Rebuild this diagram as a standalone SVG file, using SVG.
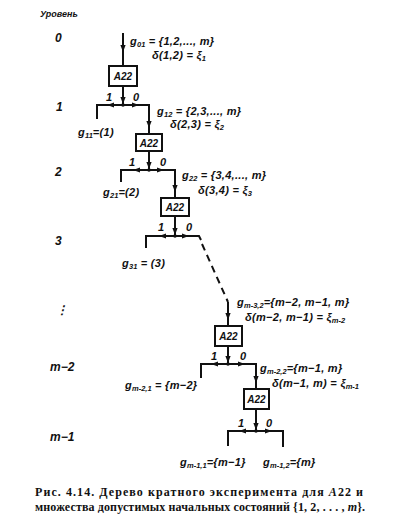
<svg xmlns="http://www.w3.org/2000/svg" width="407" height="527" viewBox="0 0 407 527">
<defs>
<style>
.t{font-family:"Liberation Sans",Arial,sans-serif;font-style:italic;font-weight:bold;font-size:11px;fill:#111;letter-spacing:0.3px;}
.s{font-size:7.5px;letter-spacing:0;}
.lv{font-family:"Liberation Sans",Arial,sans-serif;font-style:italic;font-weight:bold;font-size:12px;fill:#111;}
.cap{font-family:"Liberation Serif","Times New Roman",serif;font-size:12px;font-weight:bold;fill:#111;}
.ln{stroke:#111;stroke-width:2;fill:none;}
.dash{stroke:#111;stroke-width:2;fill:none;stroke-dasharray:7 5;}
.box{stroke:#111;stroke-width:2;fill:#fff;}
.bt{font-family:"Liberation Sans",Arial,sans-serif;font-style:italic;font-weight:bold;font-size:10px;fill:#111;text-anchor:middle;}
</style>
<path id="ad" d="M-2.6,-7 L2.6,-7 L0,0 Z" fill="#111"/>
<path id="al" d="M7,-2.4 L7,2.4 L0,0 Z" fill="#111"/>
<path id="ar" d="M-7,-2.4 L-7,2.4 L0,0 Z" fill="#111"/>
</defs>
<rect width="407" height="527" fill="#fff"/>

<g id="levels">
<text class="lv" x="40" y="17" style="font-size:9px">Уровень</text>
<text class="lv" x="55" y="42">0</text>
<text class="lv" x="56" y="111">1</text>
<text class="lv" x="55" y="176">2</text>
<text class="lv" x="55" y="245">3</text>
<text class="lv" x="56" y="314">⋮</text>
<text class="lv" x="50" y="371">m−2</text>
<text class="lv" x="50" y="441">m−1</text>
</g>

<g id="connectors">
<path class="ln" d="M123,33 V66"/>
<use href="#ad" x="123" y="52"/>
<path class="ln" d="M123,86 V105 M97,119 V105 H149 V134"/>
<use href="#ad" x="123" y="104"/>
<use href="#al" x="107" y="105"/>
<use href="#ar" x="139" y="105"/>
<use href="#ad" x="149" y="128"/>
<circle cx="123" cy="105" r="1.8" fill="#111"/>

<path class="ln" d="M149,151 V170 M121,182 V170 H175 V198"/>
<use href="#ad" x="149" y="169"/>
<use href="#al" x="133" y="170"/>
<use href="#ar" x="164" y="170"/>
<use href="#ad" x="175" y="192"/>
<circle cx="149" cy="170" r="1.8" fill="#111"/>

<path class="ln" d="M175,216 V236 M146,248 V236 H199 L201,240"/>
<use href="#ad" x="175" y="235"/>
<use href="#al" x="159" y="236"/>
<use href="#ar" x="189" y="236"/>
<circle cx="175" cy="236" r="1.8" fill="#111"/>
<path class="dash" d="M202,244 L228,302"/>
<path class="ln" d="M228,302 V326"/>
<use href="#ad" x="228" y="320"/>

<path class="ln" d="M228,346 V364 M201,378 V364 H256 V389"/>
<use href="#ad" x="228" y="363"/>
<use href="#al" x="211" y="364"/>
<use href="#ar" x="245" y="364"/>
<use href="#ad" x="256" y="383"/>
<circle cx="228" cy="364" r="1.8" fill="#111"/>

<path class="ln" d="M256,409 V431 M228,446 V431 H283 V447"/>
<use href="#ad" x="256" y="430"/>
<use href="#al" x="239" y="431"/>
<use href="#ar" x="272" y="431"/>
<circle cx="256" cy="431" r="1.8" fill="#111"/>
</g>

<g id="n0">
<rect class="box" x="109" y="66" width="28" height="20"/>
<text class="bt" x="123" y="80">A22</text>
</g>
<g id="n1">
<rect class="box" x="136" y="134" width="26" height="17"/>
<text class="bt" x="149" y="146.5">A22</text>
</g>
<g id="n2">
<rect class="box" x="161" y="198" width="28" height="18"/>
<text class="bt" x="175" y="211">A22</text>
</g>
<g id="n3">
<rect class="box" x="215" y="326" width="27" height="20"/>
<text class="bt" x="228.5" y="340">A22</text>
</g>
<g id="n4">
<rect class="box" x="244" y="389" width="25" height="20"/>
<text class="bt" x="256.5" y="403">A22</text>
</g>

<g id="labels">
<text class="t" x="130" y="45">g<tspan class="s" dy="1.5">01</tspan><tspan dy="-1.5"> = {1,2,..., m}</tspan></text>
<text class="t" x="152" y="59">δ(1,2) = ξ<tspan class="s" dy="1.5">1</tspan></text>
<text class="t" x="106" y="101">1</text>
<text class="t" x="133" y="101">0</text>
<text class="t" x="157" y="115">g<tspan class="s" dy="1.5">12</tspan><tspan dy="-1.5"> = {2,3,..., m}</tspan></text>
<text class="t" x="170" y="128">δ(2,3) = ξ<tspan class="s" dy="1.5">2</tspan></text>
<text class="t" x="78" y="136">g<tspan class="s" dy="1.5">11</tspan><tspan dy="-1.5">=(1)</tspan></text>

<text class="t" x="129" y="166">1</text>
<text class="t" x="160" y="166">0</text>
<text class="t" x="182" y="179">g<tspan class="s" dy="1.5">22</tspan><tspan dy="-1.5"> = {3,4,..., m}</tspan></text>
<text class="t" x="198" y="194">δ(3,4) = ξ<tspan class="s" dy="1.5">3</tspan></text>
<text class="t" x="103" y="196">g<tspan class="s" dy="1.5">21</tspan><tspan dy="-1.5">=(2)</tspan></text>

<text class="t" x="158" y="231">1</text>
<text class="t" x="186" y="231">0</text>
<text class="t" x="122" y="267">g<tspan class="s" dy="1.5">31</tspan><tspan dy="-1.5"> = (3)</tspan></text>

<text class="t" x="237" y="306">g<tspan class="s" dy="1.5">m-3,2</tspan><tspan dy="-1.5">={m−2, m−1, m}</tspan></text>
<text class="t" x="245" y="321">δ(m−2, m−1) = ξ<tspan class="s" dy="1.5">m-2</tspan></text>

<text class="t" x="211" y="360">1</text>
<text class="t" x="240" y="360">0</text>
<text class="t" x="260" y="372">g<tspan class="s" dy="1.5">m-2,2</tspan><tspan dy="-1.5">={m−1, m}</tspan></text>
<text class="t" x="272" y="387">δ(m−1, m) = ξ<tspan class="s" dy="1.5">m-1</tspan></text>
<text class="t" x="125" y="389">g<tspan class="s" dy="1.5">m-2,1</tspan><tspan dy="-1.5"> = {m−2}</tspan></text>

<text class="t" x="238" y="427">1</text>
<text class="t" x="266" y="427">0</text>
<text class="t" x="180" y="466">g<tspan class="s" dy="1.5">m-1,1</tspan><tspan dy="-1.5">={m−1}</tspan></text>
<text class="t" x="263" y="466">g<tspan class="s" dy="1.5">m-1,2</tspan><tspan dy="-1.5">={m}</tspan></text>
</g>

<g id="caption">
<text class="cap" x="35" y="496" textLength="328" lengthAdjust="spacing">Рис. 4.14. Дерево кратного эксперимента для <tspan font-style="italic">A</tspan>22 и</text>
<text class="cap" x="35" y="511" textLength="330" lengthAdjust="spacing">множества допустимых начальных состояний {1, 2, . . . , <tspan font-style="italic">m</tspan>}.</text>
</g>
</svg>
